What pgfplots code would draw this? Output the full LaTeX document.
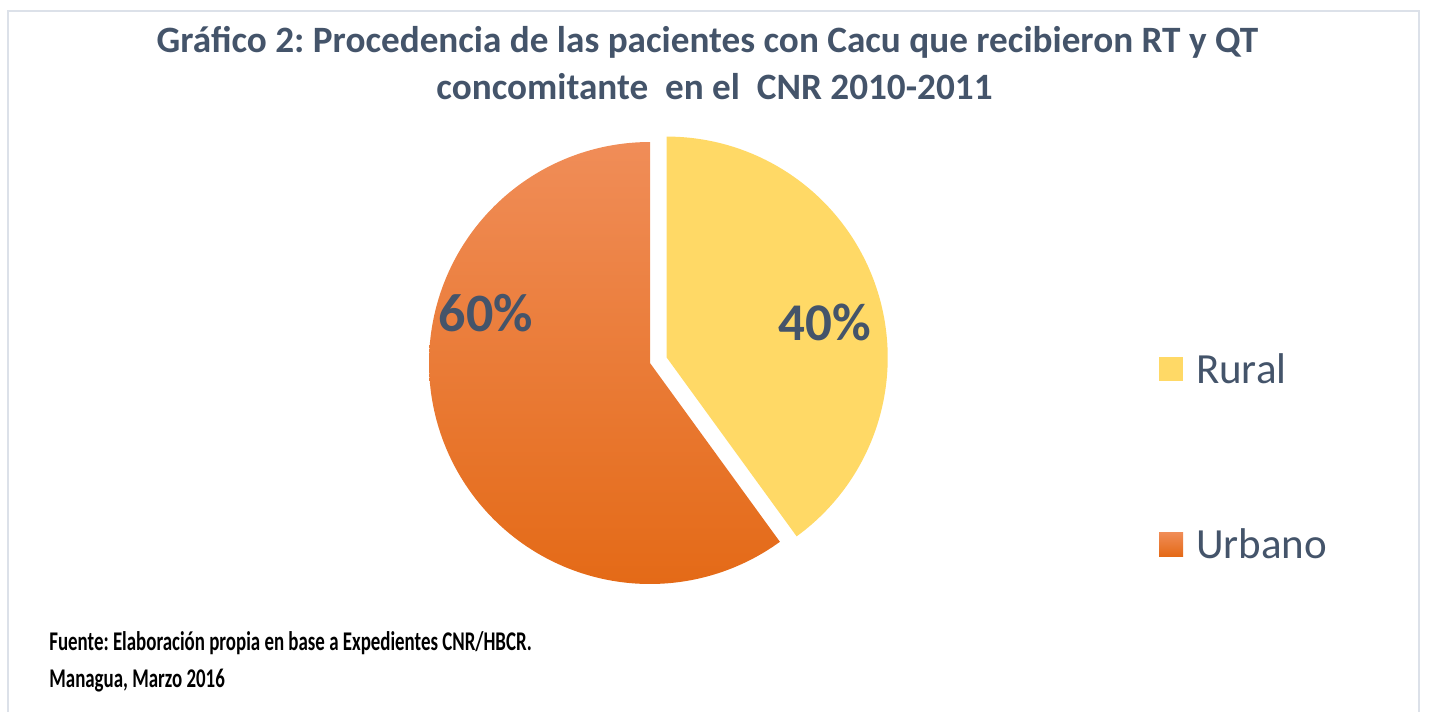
\documentclass[border=0pt]{standalone}
\usepackage{fontspec}
\setmainfont{Carlito}
\newfontfamily\condfont{Carlito}[FakeStretch=0.70]
\usepackage{pgfplots}
\usepackage{pgfplotstable}
\pgfplotsset{compat=1.18}
\frenchspacing

\definecolor{titlec}{HTML}{44546A}
\definecolor{rural}{HTML}{FFD966}
\definecolor{urbtop}{HTML}{F08D58}
\definecolor{urbmid}{HTML}{F37F31}
\definecolor{urbbot}{HTML}{E46A17}
\definecolor{framec}{HTML}{DCE1E9}

% share of patients by origin (%)
\pgfplotstableread{
label value
Rural 40
Urbano 60
}\pietab

\begin{document}
\begin{tikzpicture}
\pgfplotstablegetelem{0}{value}\of\pietab \pgfmathtruncatemacro\vRural{\pgfplotsretval}
\pgfplotstablegetelem{1}{value}\of\pietab \pgfmathtruncatemacro\vUrb{\pgfplotsretval}
\pgfmathsetmacro\angA{90-3.6*\vRural}   % end of Rural slice
\pgfmathsetmacro\angB{\angA-3.6*\vUrb}  % end of Urbano slice
\pgfmathsetmacro\angM{90-1.8*\vRural}   % middle of Rural slice (explode dir)
\pgfmathsetmacro\ex{650+17.6*cos(\angM)}
\pgfmathsetmacro\ey{363-17.6*sin(\angM)}
\begin{axis}[at={(0,0)},anchor=south west,scale only axis,
 width=714.5bp,height=356bp,xmin=0,xmax=1429,ymin=0,ymax=712,
 y dir=reverse,hide axis,clip=false,
 legend style={at={(axis cs:1159,355)},anchor=north west,draw=none,fill=none,
   inner sep=0pt,outer sep=0pt,row sep=73.5bp,column sep=6.5bp,
   font=\fontsize{21.5bp}{26bp}\selectfont,text=titlec,
   nodes={inner sep=0pt,text height=14bp,text depth=0bp}},
 legend cell align=left,
 legend image code/.code={\fill[#1] (0bp,-6bp) rectangle (12bp,6bp);}]
\path (0,0) rectangle (1429,712);
\draw[framec,line width=1bp] (8,712) -- (8,11) -- (1419,11) -- (1419,712);

\addplot[draw=none,fill=rural,domain=\angA:90,samples=120]
 ({\ex+221*cos(x)},{\ey-221*sin(x)}) -- (\ex,\ey) -- cycle;
\addlegendentry{Rural}
\addplot[draw=none,top color=urbtop,middle color=urbmid,bottom color=urbbot,
 domain=\angB:\angA,samples=180]
 ({650+221*cos(x)},{363-221*sin(x)}) -- (650,363) -- cycle;
\addlegendentry{Urbano}

\node[anchor=base,font=\bfseries\fontsize{27bp}{32bp}\selectfont,text=titlec]
 at (486,331.7) {\vUrb\%};
\node[anchor=base,font=\bfseries\fontsize{26.5bp}{32bp}\selectfont,text=titlec]
 at (825,340.7) {\vRural\%};

\node[anchor=base,font=\bfseries\fontsize{18.6bp}{22bp}\selectfont,text=titlec]
 at (707.5,52.7) {Gráfico 2: Procedencia de las pacientes con Cacu que recibieron RT y QT};
\node[anchor=base,font=\bfseries\fontsize{18.6bp}{22bp}\selectfont,text=titlec]
 at (714.5,99) {concomitante\ \ en el\ \ CNR 2010-2011};

\node[anchor=base west,inner sep=0pt,font=\condfont\bfseries\fontsize{13.5bp}{16bp}\selectfont]
 at (49,650) {Fuente: Elaboración propia en base a Expedientes CNR/HBCR.};
\node[anchor=base west,inner sep=0pt,font=\condfont\bfseries\fontsize{13.5bp}{16bp}\selectfont]
 at (49,687) {Managua, Marzo 2016};
\end{axis}
\end{tikzpicture}
\end{document}
